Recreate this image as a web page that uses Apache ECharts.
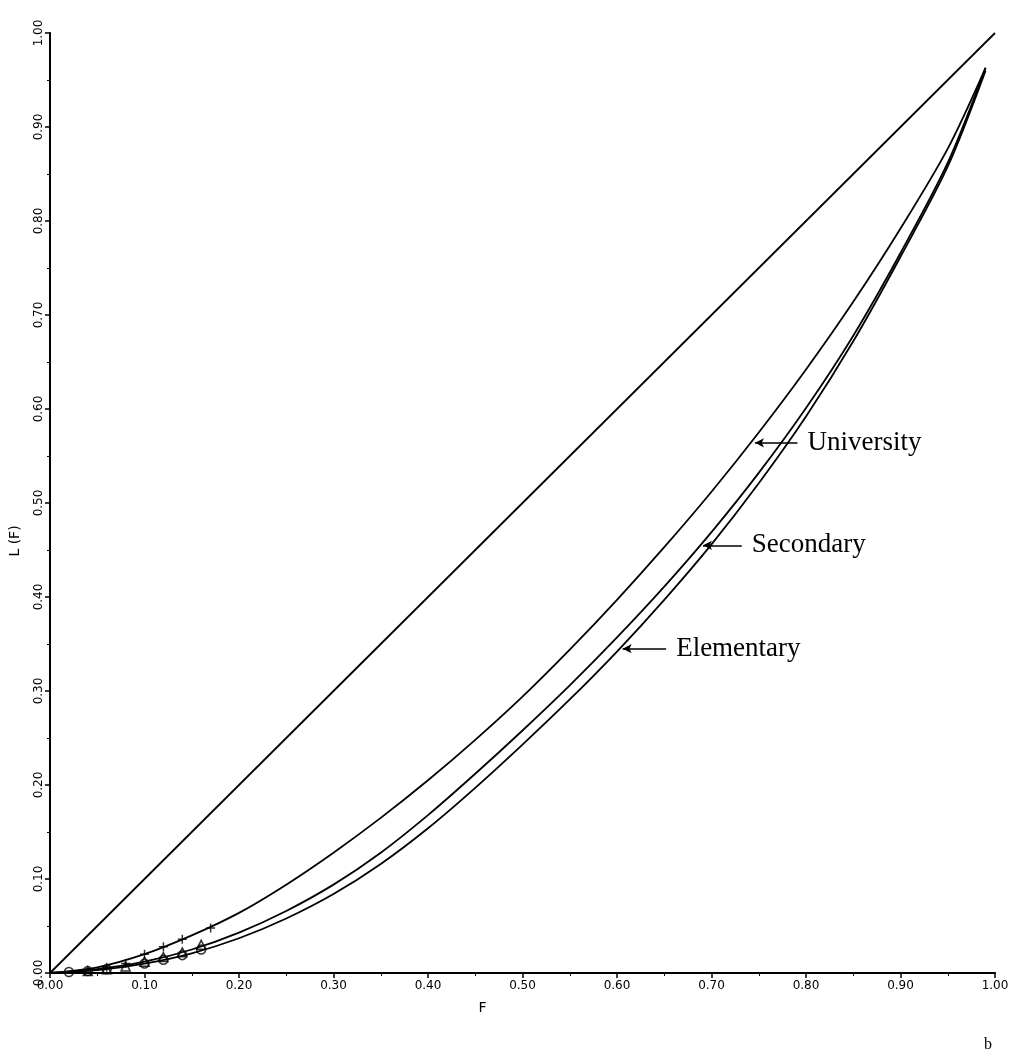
<!DOCTYPE html>
<html>
<head>
<meta charset="utf-8">
<script src="https://cdn.jsdelivr.net/npm/echarts@6/dist/echarts.min.js"></script>
<style>
  html, body { margin: 0; padding: 0; background: #fff; }
  #chart { width: 1028px; height: 1061px; }
</style>
</head>
<body>
<div id="chart"></div>
<script>
// Lorenz curves by education level
var fGrid = [0, 0.05, 0.1, 0.15, 0.2, 0.25, 0.3, 0.35, 0.4, 0.45, 0.5,
             0.55, 0.6, 0.65, 0.7, 0.75, 0.8, 0.85, 0.9, 0.95, 0.99];
var univL = [0, 0.006, 0.02, 0.04, 0.064, 0.094, 0.128, 0.165, 0.205, 0.248, 0.294,
             0.344, 0.397, 0.453, 0.512, 0.575, 0.642, 0.714, 0.792, 0.877, 0.963];
var secL  = [0, 0.004, 0.012, 0.025, 0.043, 0.066, 0.094, 0.128, 0.168, 0.212, 0.258,
             0.306, 0.357, 0.411, 0.469, 0.532, 0.601, 0.678, 0.766, 0.862, 0.963];
var elemL = [0, 0.003, 0.01, 0.021, 0.037, 0.058, 0.084, 0.116, 0.154, 0.197, 0.243,
             0.291, 0.342, 0.397, 0.456, 0.521, 0.592, 0.672, 0.762, 0.858, 0.96];

// plotted markers near the origin
var univMarkF = [0.06, 0.08, 0.10, 0.12, 0.14, 0.17];
var univMarkL = [0.006, 0.01, 0.02, 0.028, 0.036, 0.048];
var secMarkF  = [0.04, 0.06, 0.08, 0.10, 0.12, 0.14, 0.16];
var secMarkL  = [0.002, 0.004, 0.007, 0.012, 0.017, 0.022, 0.03];
var elemMarkF = [0.02, 0.04, 0.06, 0.10, 0.12, 0.14, 0.16];
var elemMarkL = [0.001, 0.002, 0.004, 0.01, 0.014, 0.019, 0.025];

var equality = [[0, 0], [1, 1]];
var tickFmt = function (v) { return v.toFixed(2); };

// arrow tip / tail on each curve and the label
var notes = [
  { name: 'University', tip: [0.746, 0.564], tail: [0.791, 0.564] },
  { name: 'Secondary',  tip: [0.691, 0.455], tail: [0.732, 0.455] },
  { name: 'Elementary', tip: [0.606, 0.345], tail: [0.652, 0.345] }
];

function pairs(xs, ys) {
  return xs.map(function (x, i) { return [x, ys[i]]; });
}

function noteLine(n) {
  return {
    silent: true,
    symbol: ['arrow', 'none'],
    symbolSize: [7, 9],
    lineStyle: { color: '#000', width: 1.5, type: 'solid' },
    label: {
      show: true, position: 'end', formatter: n.name, distance: 10,
      color: '#000', fontFamily: 'Liberation Serif', fontSize: 27
    },
    data: [[{ coord: n.tip }, { coord: n.tail }]]
  };
}

function curve(name, ys, note) {
  return {
    name: name, type: 'line', data: pairs(fGrid, ys), smooth: 0.3,
    symbol: 'none', lineStyle: { color: '#000', width: 1.8 },
    markLine: noteLine(note)
  };
}

var myChart = echarts.init(document.getElementById('chart'));
var axisFont = { color: '#000', fontFamily: 'DejaVu Sans', fontSize: 12 };

myChart.setOption({
  animation: false,
  backgroundColor: '#fff',
  grid: { left: 50, right: 33, top: 33, bottom: 88 },
  xAxis: [{
    type: 'value', min: 0, max: 1, interval: 0.1,
    name: 'F', nameLocation: 'middle', nameGap: 28,
    nameTextStyle: { color: '#000', fontFamily: 'DejaVu Sans', fontSize: 14, padding: [0, 80, 0, 0] },
    axisLine: { onZero: false, lineStyle: { color: '#000', width: 2 } },
    axisTick: { length: 5, lineStyle: { color: '#000', width: 1.5 } },
    minorTick: { show: true, splitNumber: 2, length: 3, lineStyle: { color: '#000' } },
    axisLabel: Object.assign({ formatter: tickFmt, margin: 7 }, axisFont),
    splitLine: { show: false }
  }, {
    type: 'value', min: 0, max: 1, position: 'top',
    axisLine: { show: true, lineStyle: { color: '#000', width: 1.5, type: [14, 5] } },
    axisTick: { show: false }, axisLabel: { show: false }, splitLine: { show: false }
  }],
  yAxis: [{
    type: 'value', min: 0, max: 1, interval: 0.1,
    name: 'L (F)', nameLocation: 'middle', nameGap: 28, nameRotate: 90,
    nameTextStyle: { color: '#000', fontFamily: 'DejaVu Sans', fontSize: 14, padding: [0, 76, 0, 0] },
    axisLine: { onZero: false, lineStyle: { color: '#000', width: 2 } },
    axisTick: { length: 5, lineStyle: { color: '#000', width: 1.5 } },
    minorTick: { show: true, splitNumber: 2, length: 3, lineStyle: { color: '#000' } },
    axisLabel: Object.assign({ formatter: tickFmt, margin: 5, rotate: 90 }, axisFont),
    splitLine: { show: false }
  }, {
    type: 'value', min: 0, max: 1, position: 'right',
    axisLine: { show: true, lineStyle: { color: '#000', width: 1.5, type: [14, 5] } },
    axisTick: { show: false }, axisLabel: { show: false }, splitLine: { show: false }
  }],
  series: [
    {
      name: 'Equality', type: 'line', data: equality, symbol: 'none',
      lineStyle: { color: '#000', width: 1.8 }
    },
    curve('University', univL, notes[0]),
    curve('Secondary', secL, notes[1]),
    curve('Elementary', elemL, notes[2]),
    {
      type: 'scatter', data: pairs(univMarkF, univMarkL), symbol: 'path://M5,0V10M0,5H10', symbolSize: 9,
      itemStyle: { color: 'none', borderColor: '#000', borderWidth: 1.5 }
    },
    {
      type: 'scatter', data: pairs(secMarkF, secMarkL), symbol: 'triangle', symbolSize: 9,
      itemStyle: { color: 'none', borderColor: '#000', borderWidth: 1.5 }
    },
    {
      type: 'scatter', data: pairs(elemMarkF, elemMarkL), symbol: 'circle', symbolSize: 9,
      itemStyle: { color: 'none', borderColor: '#000', borderWidth: 1.5 }
    }
  ],
  graphic: [{
    type: 'text', right: 36, bottom: 8,
    style: { text: 'b', fill: '#000', font: '16px "Liberation Serif"' }
  }]
});
window.onresize = myChart.resize;
</script>
</body>
</html>
